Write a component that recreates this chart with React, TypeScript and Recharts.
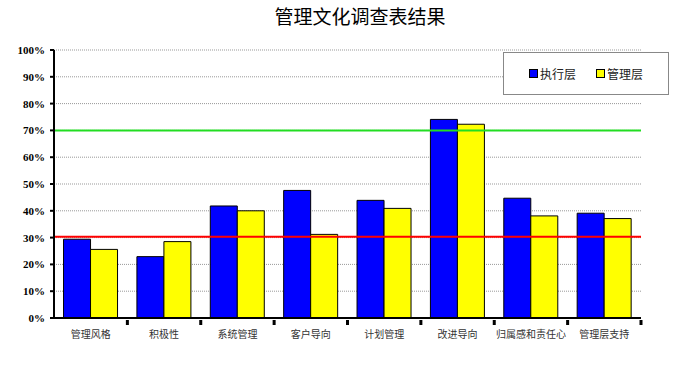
import {
  BarChart,
  Bar,
  XAxis,
  YAxis,
  CartesianGrid,
  ReferenceLine,
} from "recharts";

const categories = [
  "管理风格",
  "积极性",
  "系统管理",
  "客户导向",
  "计划管理",
  "改进导向",
  "归属感和责任心",
  "管理层支持",
];
const executive = [29.4, 22.9, 41.8, 47.6, 43.9, 74.1, 44.7, 39.1];
const management = [25.6, 28.5, 40.0, 31.2, 40.9, 72.3, 38.1, 37.1];
const yTicks = [0, 10, 20, 30, 40, 50, 60, 70, 80, 90, 100];
const targetLine = 70;
const baseLine = 30.3;

const data = categories.map((name, i) => ({
  name,
  exec: executive[i],
  mgmt: management[i],
}));

const cjk = '"Noto Sans CJK SC", "Noto Sans", sans-serif';

function XTick(props: any) {
  const { x, y, payload, width, visibleTicksCount } = props;
  const band = width / visibleTicksCount;
  return (
    <g>
      <rect x={x + band / 2 - 1.5} y={y - 6} width={3} height={5} fill="#000" />
      <text
        x={x}
        y={y + 12}
        textAnchor="middle"
        fontSize={10}
        fill="#333"
        fontFamily={cjk}
      >
        {payload.value}
      </text>
    </g>
  );
}

function LegendBox() {
  const item = (color: string, label: string) => (
    <span style={{ display: "inline-flex", alignItems: "center", marginRight: 20 }}>
      <span
        style={{
          width: 7,
          height: 7,
          background: color,
          border: "1px solid #000",
          marginRight: 2,
        }}
      />
      <span style={{ fontSize: 12, color: "#222", fontFamily: cjk }}>{label}</span>
    </span>
  );
  return (
    <div
      style={{
        position: "absolute",
        left: 503,
        top: 52,
        width: 166,
        height: 43,
        border: "1px solid #888",
        background: "#fff",
        display: "flex",
        alignItems: "center",
        justifyContent: "center",
        paddingLeft: 20,
        boxSizing: "border-box",
      }}
    >
      {item("#0000ff", "执行层")}
      {item("#ffff00", "管理层")}
    </div>
  );
}

export default function App() {
  return (
    <div
      style={{
        position: "absolute",
        left: 0,
        top: 0,
        width: 681,
        height: 386,
        background: "#fff",
      }}
    >
      <div
        style={{
          position: "absolute",
          left: 0,
          top: 2,
          width: 720,
          textAlign: "center",
          fontSize: 19,
          fontFamily: cjk,
          color: "#000",
        }}
      >
        管理文化调查表结果
      </div>
      <BarChart
        width={681}
        height={386}
        data={data}
        margin={{ top: 50, right: 40, bottom: 38, left: 0 }}
        barGap={0}
        barCategoryGap="13%"
      >
        <CartesianGrid
          horizontal
          vertical={false}
          stroke="#999"
          strokeDasharray="1 1"
        />
        <XAxis
          dataKey="name"
          height={30}
          axisLine={{ stroke: "#000", strokeWidth: 2 }}
          tickLine={false}
          tick={<XTick />}
          interval={0}
        />
        <YAxis
          width={54}
          domain={[0, 100]}
          ticks={yTicks}
          interval={0}
          tickFormatter={(v) => `${v}%`}
          axisLine={{ stroke: "#000", strokeWidth: 2 }}
          tickLine={{ stroke: "#000", strokeWidth: 2 }}
          tickSize={4}
          tickMargin={5}
          tick={{
            fill: "#000",
            fontSize: 11,
            fontWeight: "bold",
            fontFamily: '"Liberation Serif", serif',
          }}
        />
        <ReferenceLine y={targetLine} stroke="#22dd22" strokeWidth={2} />
        <ReferenceLine y={baseLine} stroke="#ff0000" strokeWidth={2} />
        <Bar
          dataKey="exec"
          name="执行层"
          fill="#0000ff"
          stroke="#000"
          strokeWidth={1}
          isAnimationActive={false}
        />
        <Bar
          dataKey="mgmt"
          name="管理层"
          fill="#ffff00"
          stroke="#000"
          strokeWidth={1}
          isAnimationActive={false}
        />
      </BarChart>
      <LegendBox />
    </div>
  );
}
